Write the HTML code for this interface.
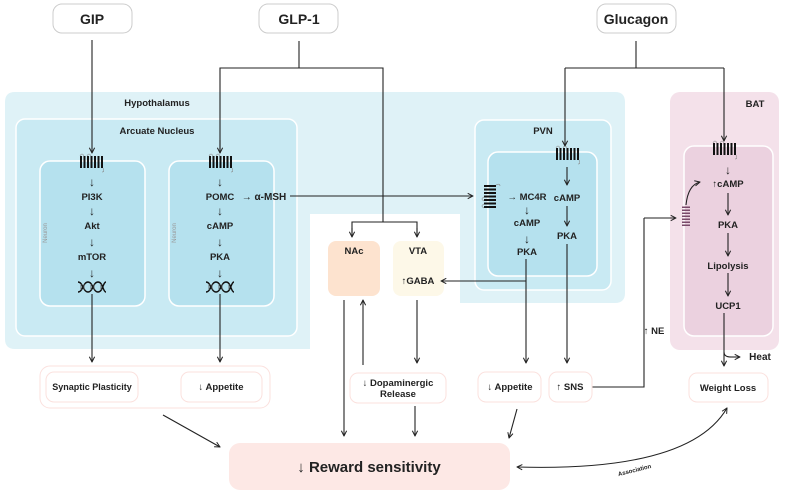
<!DOCTYPE html>
<html><head><meta charset="utf-8"><style>
html,body{margin:0;padding:0;background:#fff}
svg{display:block}
text{font-family:"Liberation Sans",sans-serif;font-weight:bold;fill:#222;text-anchor:middle}
.s{font-size:9.5px}
.ar{font-size:12px;font-weight:normal}
.ln{stroke:#222;stroke-width:1.1;fill:none}
</style></head><body>
<svg width="789" height="494" viewBox="0 0 789 494" xmlns="http://www.w3.org/2000/svg">
<defs>
<marker id="a" viewBox="0 0 10 10" refX="9" refY="5" markerWidth="6" markerHeight="6" orient="auto-start-reverse"><path d="M1,1 L9,5 L1,9" fill="none" stroke="#222" stroke-width="1.5"/></marker>
<g id="rec"><rect x="0" y="0" width="2" height="12" fill="#111"/><rect x="3.5" y="0" width="2" height="12" fill="#111"/><rect x="7" y="0" width="2" height="12" fill="#111"/><rect x="10.5" y="0" width="2" height="12" fill="#111"/><rect x="14" y="0" width="2" height="12" fill="#111"/><rect x="17.5" y="0" width="2" height="12" fill="#111"/><rect x="21" y="0" width="2" height="12" fill="#111"/><path d="M0,0 q2,-4 4,0 M7,0 q2,-4 4,0 M23,12 q2,4 -1,4" stroke="#888" stroke-width="0.6" fill="none"/></g>
<g id="dna"><path d="M0,-5 C5,-5 5,5 10,5 C15,5 15,-5 20,-5 C25,-5 25,5 28,5 M0,5 C5,5 5,-5 10,-5 C15,-5 15,5 20,5 C25,5 25,-5 28,-5" stroke="#111" stroke-width="1.4" fill="none"/><path d="M3,-3v6M6,-3v6M13,-3v6M16,-3v6M23,-3v6" stroke="#555" stroke-width="0.8"/></g>
</defs>

<rect x="53" y="4" width="79" height="29" rx="9" fill="#fff" stroke="#ccc"/>
<text x="92" y="24" style="font-size:14px">GIP</text>
<rect x="259" y="4" width="79" height="29" rx="9" fill="#fff" stroke="#ccc"/>
<text x="299" y="24" style="font-size:14px">GLP-1</text>
<rect x="597" y="4" width="79" height="29" rx="9" fill="#fff" stroke="#ccc"/>
<text x="636" y="24" style="font-size:14px">Glucagon</text>

<path d="M15,92 H615 Q625,92 625,102 V293 Q625,303 615,303 H460 V214 H310 V349 H15 Q5,349 5,339 V102 Q5,92 15,92 Z" fill="#dff2f7"/>
<text x="157" y="106" class="s">Hypothalamus</text>
<rect x="16" y="119" width="281" height="217" rx="9" fill="#c9eaf3" stroke="#fff" stroke-width="1.5"/>
<text x="157" y="134" class="s">Arcuate Nucleus</text>
<rect x="40" y="161" width="105" height="145" rx="10" fill="#b5e1ee" stroke="#fff" stroke-width="1.5"/>
<rect x="169" y="161" width="105" height="145" rx="10" fill="#b5e1ee" stroke="#fff" stroke-width="1.5"/>
<text transform="translate(47,233) rotate(-90)" style="font-size:6px;font-weight:normal;fill:#999">Neuron</text>
<text transform="translate(176,233) rotate(-90)" style="font-size:6px;font-weight:normal;fill:#999">Neuron</text>
<use href="#rec" x="80" y="156"/>
<use href="#rec" x="209" y="156"/>
<text x="92" y="200" class="s">PI3K</text><text x="92" y="229" class="s">Akt</text><text x="92" y="260" class="s">mTOR</text>
<text x="92" y="186" class="ar">↓</text><text x="92" y="215" class="ar">↓</text><text x="92" y="246" class="ar">↓</text><text x="92" y="277" class="ar">↓</text>
<use href="#dna" x="78" y="287"/>
<text x="220" y="200" class="s">POMC</text><text x="220" y="229" class="s">cAMP</text><text x="220" y="260" class="s">PKA</text>
<text x="220" y="186" class="ar">↓</text><text x="220" y="215" class="ar">↓</text><text x="220" y="246" class="ar">↓</text><text x="220" y="277" class="ar">↓</text>
<use href="#dna" x="206" y="287"/>
<text x="264" y="200" style="font-size:10px">→ α-MSH</text>

<rect x="475" y="120" width="136" height="170" rx="9" fill="#c9eaf3" stroke="#fff" stroke-width="1.5"/>
<text x="543" y="134" class="s">PVN</text>
<rect x="488" y="152" width="109" height="124" rx="10" fill="#b5e1ee" stroke="#fff" stroke-width="1.5"/>
<use href="#rec" x="556" y="148"/>
<g transform="translate(484,208) rotate(-90)"><use href="#rec" x="0" y="0"/></g>
<text x="527" y="200" class="s">→ MC4R</text>
<text x="527" y="214" class="ar">↓</text><text x="527" y="226" class="s">cAMP</text>
<text x="527" y="243" class="ar">↓</text><text x="527" y="255" class="s">PKA</text>
<text x="567" y="201" class="s">cAMP</text><text x="567" y="239" class="s">PKA</text>
<line x1="567" y1="167" x2="567" y2="185" class="ln" marker-end="url(#a)"/>
<line x1="567" y1="206" x2="567" y2="226" class="ln" marker-end="url(#a)"/>

<rect x="670" y="92" width="109" height="258" rx="10" fill="#f4e1ea"/>
<text x="755" y="107" class="s">BAT</text>
<rect x="684" y="146" width="89" height="190" rx="10" fill="#ebd1df" stroke="#fff" stroke-width="1.5"/>
<use href="#rec" x="713" y="143"/>
<g transform="translate(682,226) rotate(-90)"><path d="M0,0h1.5v8h-1.5zM3,0h1.5v8h-1.5zM6,0h1.5v8h-1.5zM9,0h1.5v8h-1.5zM12,0h1.5v8h-1.5zM15,0h1.5v8h-1.5zM18,0h1.5v8h-1.5z" fill="#7a4a6a"/></g>
<text x="728" y="174" class="ar">↓</text>
<text x="728" y="187" class="s">↑cAMP</text>
<text x="728" y="228" class="s">PKA</text>
<text x="728" y="269" class="s">Lipolysis</text>
<text x="728" y="309" class="s">UCP1</text>
<line x1="728" y1="193" x2="728" y2="215" class="ln" marker-end="url(#a)"/>
<line x1="728" y1="233" x2="728" y2="256" class="ln" marker-end="url(#a)"/>
<line x1="728" y1="273" x2="728" y2="296" class="ln" marker-end="url(#a)"/>
<path d="M686,205 Q688,185 700,182" class="ln" marker-end="url(#a)"/>

<rect x="328" y="241" width="52" height="55" rx="8" fill="#fde3cf"/>
<text x="354" y="254" class="s">NAc</text>
<rect x="393" y="241" width="51" height="55" rx="8" fill="#fdf8e8"/>
<text x="418" y="254" class="s">VTA</text>
<text x="418" y="284" class="s">↑GABA</text>

<line x1="92" y1="40" x2="92" y2="153" class="ln" marker-end="url(#a)"/>
<path d="M299,41 V68 M220,153 V68 H383 V222" class="ln"/>
<line x1="220" y1="140" x2="220" y2="153" class="ln" marker-end="url(#a)"/>
<path d="M352,236 V222 H417 V236" class="ln"/>
<line x1="352" y1="228" x2="352" y2="237" class="ln" marker-end="url(#a)"/>
<line x1="417" y1="228" x2="417" y2="237" class="ln" marker-end="url(#a)"/>
<path d="M636,41 V68 M565,68 H724" class="ln"/>
<line x1="565" y1="68" x2="565" y2="146" class="ln" marker-end="url(#a)"/>
<line x1="724" y1="68" x2="724" y2="141" class="ln" marker-end="url(#a)"/>
<line x1="290" y1="196" x2="473" y2="196" class="ln" marker-end="url(#a)"/>
<line x1="526" y1="281" x2="441" y2="281" class="ln" marker-end="url(#a)"/>
<line x1="526" y1="259" x2="526" y2="363" class="ln" marker-end="url(#a)"/>
<line x1="567" y1="244" x2="567" y2="363" class="ln" marker-end="url(#a)"/>
<path d="M592,387 H644 V218" class="ln"/>
<line x1="644" y1="218" x2="676" y2="218" class="ln" marker-end="url(#a)"/>
<text x="654" y="334" class="s">↑ NE</text>
<line x1="92" y1="294" x2="92" y2="362" class="ln" marker-end="url(#a)"/>
<line x1="220" y1="294" x2="220" y2="362" class="ln" marker-end="url(#a)"/>
<line x1="344" y1="300" x2="344" y2="436" class="ln" marker-end="url(#a)"/>
<line x1="363" y1="365" x2="363" y2="300" class="ln" marker-end="url(#a)"/>
<line x1="417" y1="300" x2="417" y2="363" class="ln" marker-end="url(#a)"/>
<line x1="415" y1="406" x2="415" y2="436" class="ln" marker-end="url(#a)"/>
<line x1="163" y1="415" x2="220" y2="447" class="ln" marker-end="url(#a)"/>
<line x1="517" y1="409" x2="509" y2="438" class="ln" marker-end="url(#a)"/>
<line x1="724" y1="313" x2="724" y2="366" class="ln" marker-end="url(#a)"/>
<path d="M724,352 Q724,357 731,357" class="ln"/>
<line x1="730" y1="357" x2="740" y2="357" class="ln" marker-end="url(#a)"/>
<text x="760" y="360" class="s" style="font-size:10px">Heat</text>
<path d="M517,467 Q690,472 727,408" class="ln" marker-start="url(#a)" marker-end="url(#a)"/>
<text transform="translate(635,472) rotate(-14)" style="font-size:6px">Association</text>

<rect x="40" y="366" width="230" height="42" rx="10" fill="#fff" stroke="#fbe1de"/>
<rect x="46" y="372" width="92" height="30" rx="8" fill="#fff" stroke="#fbe1de"/>
<text x="92" y="390" class="s" style="font-size:9px">Synaptic Plasticity</text>
<rect x="181" y="372" width="81" height="30" rx="8" fill="#fff" stroke="#fbe1de"/>
<text x="221" y="390" class="s">↓ Appetite</text>
<rect x="350" y="373" width="96" height="30" rx="8" fill="#fff" stroke="#fbe1de"/>
<text x="398" y="386" class="s">↓ Dopaminergic</text>
<text x="398" y="397" class="s">Release</text>
<rect x="478" y="372" width="63" height="30" rx="8" fill="#fff" stroke="#fbe1de"/>
<text x="510" y="390" class="s">↓ Appetite</text>
<rect x="549" y="372" width="43" height="30" rx="8" fill="#fff" stroke="#fbe1de"/>
<text x="570" y="390" class="s">↑ SNS</text>
<rect x="689" y="373" width="79" height="29" rx="8" fill="#fff" stroke="#fbe1de"/>
<text x="728" y="391" class="s">Weight Loss</text>
<rect x="229" y="443" width="281" height="47" rx="11" fill="#fde8e5"/>
<text x="369" y="472" style="font-size:15px">↓ Reward sensitivity</text>
</svg>
</body></html>
